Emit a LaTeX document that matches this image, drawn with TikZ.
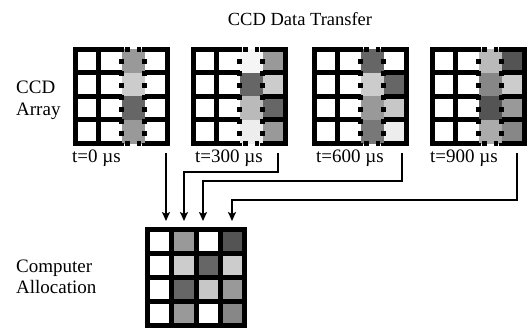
\documentclass[tikz,border=0pt]{standalone}
\usepackage{fontspec}
\setmainfont{Liberation Serif}
\usetikzlibrary{arrows.meta}
\tikzset{
  gridline/.style={line width=5pt, line cap=rect},
  dotline/.style={line width=5pt, dash pattern=on 4.5pt off 7.5pt},
  lbl/.style={font=\fontsize{19}{22}\selectfont, inner sep=0pt, anchor=base west},
  arr/.style={line width=2pt, -{Stealth[length=9pt,width=8pt,inset=2pt]}},
}
% #1 left x ; #2-#5 column-3 colours ; #6-#9 column-4 colours
\newcommand\ccdgrid[9]{%
 \begin{scope}[shift={(#1,0)}]
  \fill[white] (2.5,49) rectangle (94.5,143.5);
  \fill[#2] (48.5,49) rectangle (71.5,72.625);
  \fill[#3] (48.5,72.625) rectangle (71.5,96.25);
  \fill[#4] (48.5,96.25) rectangle (71.5,119.875);
  \fill[#5] (48.5,119.875) rectangle (71.5,143.5);
  \fill[#6] (71.5,49) rectangle (94.5,72.625);
  \fill[#7] (71.5,72.625) rectangle (94.5,96.25);
  \fill[#8] (71.5,96.25) rectangle (94.5,119.875);
  \fill[#9] (71.5,119.875) rectangle (94.5,143.5);
  \draw[gridline] (2.5,49) -- (2.5,143.5);
  \draw[gridline] (25.5,49) -- (25.5,143.5);
  \draw[gridline] (94.5,49) -- (94.5,143.5);
  \foreach \yy in {49,72.625,96.25,119.875,143.5}{
    \draw[gridline] (2.5,\yy) -- (46,\yy);
    \draw[gridline] (74,\yy) -- (94.5,\yy);
  }
  \draw[dotline] (48.5,47) -- (48.5,146);
  \draw[dotline] (71.5,47) -- (71.5,146);
  \draw[dotline] (52,49) -- (68,49);
  \draw[dotline] (52,143.5) -- (68,143.5);
 \end{scope}}
\begin{document}
\begin{tikzpicture}[x=1pt,y=-1pt]
\fill[white] (0,0) rectangle (532,330);
\useasboundingbox (0,0) rectangle (532,330);

\node[lbl, anchor=base, font=\fontsize{18.5}{22}\selectfont] (title) at (300,25) {CCD Data Transfer};
\node[lbl] (ccd) at (16,93) {CCD};
\node[lbl] (array) at (16,115) {Array};
\node[lbl] (comp) at (16,272) {Computer};
\node[lbl] (alloc) at (16,293) {Allocation};

\ccdgrid{73}{black!40}{black!20}{black!60}{black!40}{white}{white}{white}{white}
\ccdgrid{191}{black!4}{black!60}{black!27}{black!7}{black!40}{black!20}{black!60}{black!40}
\ccdgrid{312}{black!60}{black!20}{black!40}{black!53}{white}{black!60}{black!22}{black!7}
\ccdgrid{430}{black!27}{black!47}{black!67}{black!33}{black!67}{black!20}{black!40}{black!47}

\node[lbl] (t0) at (72,162) {t=0 µs};
\node[lbl] (t300) at (195,162) {t=300 µs};
\node[lbl] (t600) at (316,162) {t=600 µs};
\node[lbl] (t900) at (430,162) {t=900 µs};

% computer allocation grid
\fill[white] (147.5,229.5) rectangle (244.5,325.5);
\fill[black!40] (171.75,229.5) rectangle (196,253.5);
\fill[black!20] (171.75,253.5) rectangle (196,277.5);
\fill[black!60] (171.75,277.5) rectangle (196,301.5);
\fill[black!40] (171.75,301.5) rectangle (196,325.5);
\fill[black!60] (196,253.5) rectangle (220.25,277.5);
\fill[black!22] (196,277.5) rectangle (220.25,301.5);
\fill[black!67] (220.25,229.5) rectangle (244.5,253.5);
\fill[black!20] (220.25,253.5) rectangle (244.5,277.5);
\fill[black!40] (220.25,277.5) rectangle (244.5,301.5);
\fill[black!47] (220.25,301.5) rectangle (244.5,325.5);
\foreach \xx in {147.5,171.75,196,220.25,244.5}
  \draw[gridline] (\xx,229.5) -- (\xx,325.5);
\foreach \yy in {229.5,253.5,277.5,301.5,325.5}
  \draw[gridline] (147.5,\yy) -- (244.5,\yy);

% arrows
\coordinate (s1) at (166,153);
\coordinate (s2) at (278,153);
\coordinate (s3) at (402,153);
\coordinate (s4) at (517,153);
\coordinate (e1) at (166,221);
\coordinate (e2) at (184,221);
\coordinate (e3) at (203,221);
\coordinate (e4) at (232,221);
\draw[arr] (s1) -- (e1);
\draw[arr] (s2) -- ++(0,19) -| (e2);
\draw[arr] (s3) -- ++(0,28) -| (e3);
\draw[arr] (s4) -- ++(0,47) -| (e4);
\end{tikzpicture}
\end{document}
